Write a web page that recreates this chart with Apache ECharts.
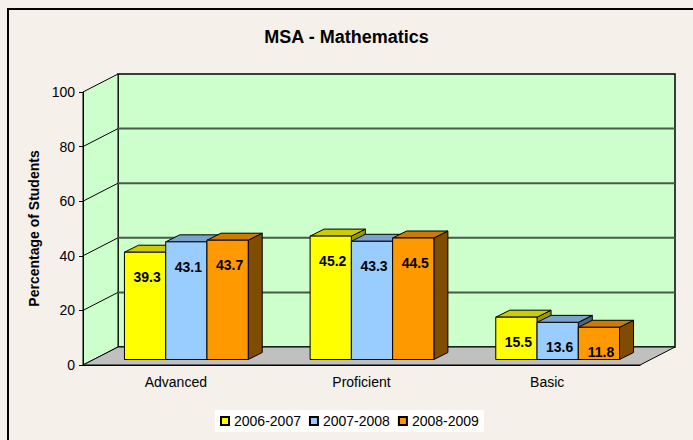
<!DOCTYPE html>
<html>
<head>
<meta charset="utf-8">
<script src="https://cdn.jsdelivr.net/npm/echarts@6/dist/echarts.min.js"></script>
<style>
  html, body { margin: 0; padding: 0; background: #f5f0ea; }
  #chart { width: 693px; height: 440px; }
</style>
</head>
<body>
<div id="chart"></div>
<script>
// data
var categories = ['Advanced', 'Proficient', 'Basic'];
var seriesNames = ['2006-2007', '2007-2008', '2008-2009'];
var values2006 = [39.3, 45.2, 15.5];
var values2007 = [43.1, 43.3, 13.6];
var values2008 = [43.7, 44.5, 11.8];
var yTicks = [0, 20, 40, 60, 80, 100];

// colours: front / top / side
var palette = [
    { front: '#ffff00', top: '#cccc00', side: '#999900' },
    { front: '#99ccff', top: '#7aa3cc', side: '#4c6680' },
    { front: '#ff9900', top: '#cc7a00', side: '#7f4c00' }
];

// 3d depth of the floor and of one bar
var DX = 35, DY = 18;
var BDX = 14, BDY = 7;
var FONT = 'Liberation Sans, Arial, sans-serif';

function renderWalls(params, api) {
    var bw = api.size([1, 0])[0];
    var p0 = api.coord([0, 0]);
    var pEnd = api.coord([categories.length - 1, 0]);
    var xl = p0[0] - bw / 2, xr = pEnd[0] + bw / 2;
    var yb = p0[1];
    var yt = api.coord([0, yTicks[yTicks.length - 1]])[1];
    var children = [];
    // back wall
    children.push({
        type: 'rect',
        shape: { x: xl + DX, y: yt - DY, width: xr - xl, height: yb - yt },
        style: { fill: '#ccffcc', stroke: '#000', lineWidth: 1.5 }
    });
    // left wall
    children.push({
        type: 'polygon',
        shape: { points: [[xl, yb], [xl, yt], [xl + DX, yt - DY], [xl + DX, yb - DY]] },
        style: { fill: '#ccffcc', stroke: '#000', lineWidth: 1 }
    });
    for (var i = 1; i < yTicks.length - 1; i++) {
        var y = api.coord([0, yTicks[i]])[1];
        children.push({
            type: 'line',
            shape: { x1: xl + DX, y1: y - DY, x2: xr + DX, y2: y - DY },
            style: { stroke: '#4a5a4a', lineWidth: 2 }
        });
        children.push({
            type: 'line',
            shape: { x1: xl, y1: y, x2: xl + DX, y2: y - DY },
            style: { stroke: '#000', lineWidth: 1 }
        });
    }
    // floor
    children.push({
        type: 'polygon',
        shape: { points: [[xl, yb], [xl + DX, yb - DY], [xr + DX, yb - DY], [xr, yb]] },
        style: { fill: '#c0c0c0', stroke: '#000', lineWidth: 1 }
    });
    return { type: 'group', children: children };
}

function makeBarRenderer(idx) {
    return function (params, api) {
        var ci = api.value(0), v = api.value(1);
        var top = api.coord([ci, v]);
        var base = api.coord([ci, 0]);
        var bw = api.size([1, 0])[0];
        var w = bw / 4.5;
        var ox = (DX - BDX) / 2, oy = (DY - BDY) / 2;
        var x = top[0] - 1.5 * w + idx * w + ox;
        var yt = top[1] - oy, yb = base[1] - oy;
        var c = palette[idx];
        return {
            type: 'group',
            children: [
                {
                    type: 'polygon',
                    shape: { points: [[x + w, yt], [x + w + BDX, yt - BDY], [x + w + BDX, yb - BDY], [x + w, yb]] },
                    style: { fill: c.side, stroke: '#000', lineWidth: 1 }
                },
                {
                    type: 'polygon',
                    shape: { points: [[x, yt], [x + w, yt], [x + w + BDX, yt - BDY], [x + BDX, yt - BDY]] },
                    style: { fill: c.top, stroke: '#000', lineWidth: 1 }
                },
                {
                    type: 'rect',
                    shape: { x: x, y: yt, width: w, height: yb - yt },
                    style: { fill: c.front, stroke: '#000', lineWidth: 1 }
                },
                {
                    type: 'text',
                    x: x + w / 2 + 2,
                    y: yt + 25,
                    style: {
                        text: v.toFixed(1),
                        fill: '#000',
                        font: 'bold 14px ' + FONT,
                        align: 'center',
                        verticalAlign: 'middle'
                    }
                }
            ]
        };
    };
}

var allValues = [values2006, values2007, values2008];
var series = [{
    type: 'custom',
    name: 'walls',
    silent: true,
    clip: false,
    z: 1,
    renderItem: renderWalls,
    encode: { x: 0, y: 1 },
    data: [[0, 0]]
}];
for (var s = 0; s < seriesNames.length; s++) {
    series.push({
        type: 'custom',
        name: seriesNames[s],
        clip: false,
        z: 3,
        itemStyle: { color: palette[s].front, borderColor: '#000', borderWidth: 1 },
        renderItem: makeBarRenderer(s),
        encode: { x: 0, y: 1 },
        data: allValues[s].map(function (val, i) { return [i, val]; })
    });
}

var myChart = echarts.init(document.getElementById('chart'), null, { renderer: 'svg' });
myChart.setOption({
    backgroundColor: '#f5f0ea',
    animation: false,
    title: {
        text: 'MSA - Mathematics',
        left: 'center',
        top: 28,
        padding: 0,
        textStyle: { fontFamily: FONT, fontSize: 18, fontWeight: 'bold', color: '#000' }
    },
    graphic: [{
        type: 'rect',
        z: -10,
        shape: { x: 8, y: 9, width: 720, height: 480 },
        style: { fill: 'none', stroke: '#000', lineWidth: 2 }
    }],
    legend: {
        data: seriesNames,
        left: 215,
        top: 410,
        padding: [4, 5],
        itemWidth: 8,
        itemHeight: 8,
        itemGap: 8,
        icon: 'rect',
        backgroundColor: '#ffffff',
        textStyle: { fontFamily: FONT, fontSize: 14, color: '#000' }
    },
    grid: { left: 83, right: 53, top: 92, bottom: 75 },
    xAxis: {
        type: 'category',
        data: categories,
        z: 10,
        axisLine: { lineStyle: { color: '#000', width: 1 } },
        axisTick: { length: 5, lineStyle: { color: '#000' } },
        axisLabel: { margin: 10, fontFamily: FONT, fontSize: 14, color: '#000' }
    },
    yAxis: {
        type: 'value',
        min: 0,
        max: 100,
        interval: 20,
        z: 10,
        name: 'Percentage of Students',
        nameLocation: 'middle',
        nameRotate: 90,
        nameGap: 41,
        nameTextStyle: { fontFamily: FONT, fontSize: 14, fontWeight: 'bold', color: '#000' },
        axisLine: { show: true, lineStyle: { color: '#000', width: 1 } },
        axisTick: { show: true, length: 4, lineStyle: { color: '#000' } },
        axisLabel: { margin: 8, fontFamily: FONT, fontSize: 14, color: '#000' },
        splitLine: { show: false }
    },
    series: series
});
</script>
</body>
</html>
